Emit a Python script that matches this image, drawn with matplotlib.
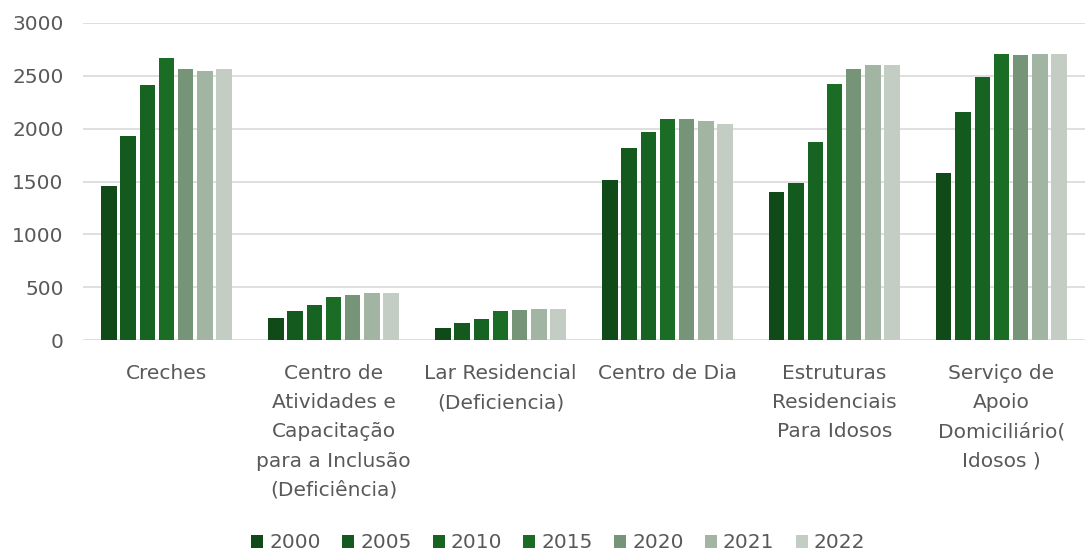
import matplotlib.pyplot as plt
import numpy as np

# categorias e valores
categorias = [
    "Creches",
    "Centro de\nAtividades e\nCapacitação\npara a Inclusão\n(Deficiência)",
    "Lar Residencial\n(Deficiencia)",
    "Centro de Dia",
    "Estruturas\nResidenciais\nPara Idosos",
    "Serviço de\nApoio\nDomiciliário(\nIdosos )",
]
anos = ["2000", "2005", "2010", "2015", "2020", "2021", "2022"]

v2000 = [1460, 213, 113, 1519, 1399, 1581]
v2005 = [1930, 273, 166, 1821, 1484, 2160]
v2010 = [2415, 336, 201, 1968, 1871, 2490]
v2015 = [2670, 406, 273, 2088, 2418, 2704]
v2020 = [2559, 430, 286, 2088, 2559, 2695]
v2021 = [2547, 443, 298, 2075, 2597, 2704]
v2022 = [2559, 443, 298, 2040, 2597, 2704]
series = [v2000, v2005, v2010, v2015, v2020, v2021, v2022]

cores = ["#0f4a18", "#145a1f", "#176322", "#1b6d25", "#769478", "#a2b4a2", "#c3cdc3"]
texto = "#595959"

plt.rcParams['font.family'] = ['DejaVu Sans']

fig = plt.figure(figsize=(10.86, 5.54), dpi=100)
ax = fig.add_axes([0.0764, 0.3857, 0.9226, 0.5733])

x = np.arange(len(categorias))
slot = 0.115
largura = 0.092
for i, (ano, vals) in enumerate(zip(anos, series)):
    ax.bar(x + (i - 3) * slot, vals, largura, color=cores[i], label=ano, zorder=3)

ax.set_xlim(-0.5, len(categorias) - 0.5)
ax.set_ylim(0, 3000)
ax.set_yticks(np.arange(0, 3001, 500))
ax.yaxis.grid(True, color="#d9d9d9", linewidth=1.2, zorder=0)
for s in ax.spines.values():
    s.set_visible(False)
ax.tick_params(axis="both", length=0, colors=texto, labelsize=14.5)
ax.tick_params(axis="y", pad=14)
ax.tick_params(axis="x", pad=17)
ax.set_xticks(x)
ax.set_xticklabels(categorias, linespacing=1.68, va="top")

ax.legend(loc="center", bbox_to_anchor=(0.514, 0.02), bbox_transform=fig.transFigure,
          ncol=7, frameon=False, fontsize=14.5, labelcolor=texto,
          handlelength=0.6, handleheight=0.6, handletextpad=0.3, columnspacing=1.05)

fig.savefig("out.png", dpi=100, facecolor="white")
